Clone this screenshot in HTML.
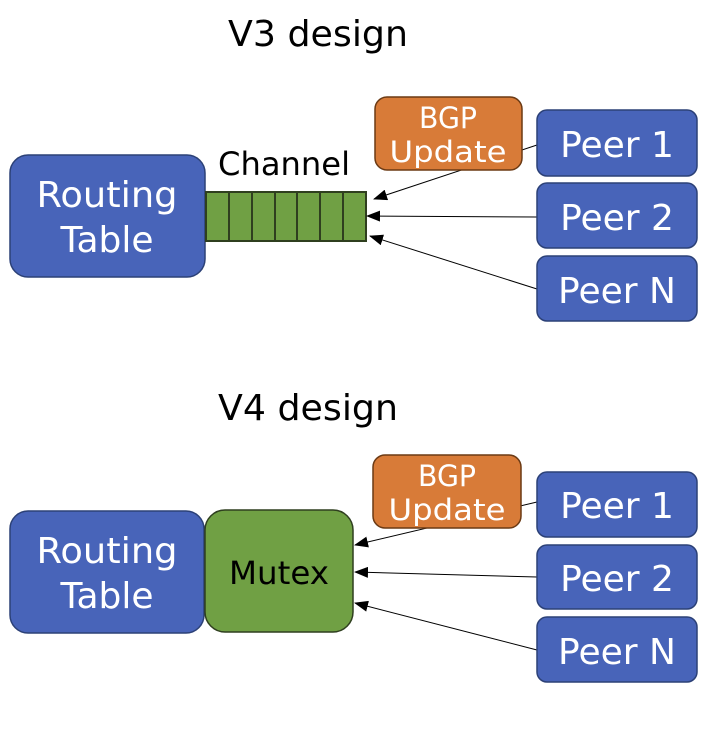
<!DOCTYPE html>
<html><head><meta charset="utf-8"><style>
html,body{margin:0;padding:0;background:#fff;}
svg{display:block;}
text{font-family:"DejaVu Sans","Liberation Sans",sans-serif;}
</style></head><body>
<svg width="710" height="729" viewBox="0 0 710 729" xmlns="http://www.w3.org/2000/svg">
<defs>
<marker id="a" markerWidth="14" markerHeight="11" refX="13" refY="5.5" orient="auto" markerUnits="userSpaceOnUse">
<path d="M0,0 L14,5.5 L0,11 z" fill="#000"/></marker>
</defs>
<!-- V3 -->
<text x="318" y="46" font-size="36" text-anchor="middle" fill="#000" textLength="180" lengthAdjust="spacingAndGlyphs">V3 design</text>
<rect x="10" y="155" width="195" height="122" rx="18" fill="#4864b9" stroke="#2c4177" stroke-width="1.5"/>
<text x="107" y="207" font-size="36" fill="#fff" text-anchor="middle" textLength="141" lengthAdjust="spacingAndGlyphs">Routing</text>
<text x="107" y="252" font-size="36" fill="#fff" text-anchor="middle">Table</text>
<text x="284" y="175" font-size="32" fill="#000" text-anchor="middle" textLength="132" lengthAdjust="spacingAndGlyphs">Channel</text>
<rect x="206" y="192" width="160" height="49" fill="#70a044" stroke="#2f3f1f" stroke-width="2"/>
<g stroke="#2f3f1f" stroke-width="2">
<line x1="229" y1="192" x2="229" y2="241"/><line x1="252" y1="192" x2="252" y2="241"/>
<line x1="275" y1="192" x2="275" y2="241"/><line x1="297" y1="192" x2="297" y2="241"/>
<line x1="320" y1="192" x2="320" y2="241"/><line x1="343" y1="192" x2="343" y2="241"/>
</g>
<g stroke="#000" stroke-width="1" marker-end="url(#a)">
<line x1="537" y1="145" x2="374" y2="199"/>
<line x1="537" y1="217" x2="367" y2="216"/>
<line x1="537" y1="289" x2="370" y2="236"/>
</g>
<rect x="375" y="97" width="147" height="73" rx="12" fill="#d87b38" stroke="#6b3a14" stroke-width="1.5"/>
<text x="448" y="128" font-size="29" fill="#fff" text-anchor="middle" textLength="58" lengthAdjust="spacingAndGlyphs">BGP</text>
<text x="448" y="162" font-size="29" fill="#fff" text-anchor="middle" textLength="117" lengthAdjust="spacingAndGlyphs">Update</text>
<g fill="#4864b9" stroke="#2c4177" stroke-width="1.5">
<rect x="537" y="110" width="160" height="66" rx="10"/>
<rect x="537" y="183" width="160" height="65" rx="10"/>
<rect x="537" y="256" width="160" height="65" rx="10"/>
</g>
<g font-size="36" fill="#fff" text-anchor="middle">
<text x="617" y="157">Peer 1</text>
<text x="617" y="230">Peer 2</text>
<text x="617" y="303">Peer N</text>
</g>
<!-- V4 -->
<text x="308" y="420" font-size="36" text-anchor="middle" fill="#000" textLength="180" lengthAdjust="spacingAndGlyphs">V4 design</text>
<rect x="10" y="511" width="194" height="122" rx="18" fill="#4864b9" stroke="#2c4177" stroke-width="1.5"/>
<text x="107" y="563" font-size="36" fill="#fff" text-anchor="middle" textLength="141" lengthAdjust="spacingAndGlyphs">Routing</text>
<text x="107" y="608" font-size="36" fill="#fff" text-anchor="middle">Table</text>
<rect x="205" y="510" width="148" height="122" rx="20" fill="#70a044" stroke="#2f3f1f" stroke-width="1.5"/>
<text x="279" y="584" font-size="32" fill="#000" text-anchor="middle" textLength="100" lengthAdjust="spacingAndGlyphs">Mutex</text>
<g stroke="#000" stroke-width="1" marker-end="url(#a)">
<line x1="537" y1="502" x2="355" y2="545"/>
<line x1="537" y1="577" x2="355" y2="572"/>
<line x1="537" y1="650" x2="355" y2="603"/>
</g>
<rect x="373" y="455" width="148" height="73" rx="12" fill="#d87b38" stroke="#6b3a14" stroke-width="1.5"/>
<text x="447" y="486" font-size="29" fill="#fff" text-anchor="middle" textLength="58" lengthAdjust="spacingAndGlyphs">BGP</text>
<text x="447" y="520" font-size="29" fill="#fff" text-anchor="middle" textLength="117" lengthAdjust="spacingAndGlyphs">Update</text>
<g fill="#4864b9" stroke="#2c4177" stroke-width="1.5">
<rect x="537" y="472" width="160" height="65" rx="10"/>
<rect x="537" y="545" width="160" height="64" rx="10"/>
<rect x="537" y="617" width="160" height="65" rx="10"/>
</g>
<g font-size="36" fill="#fff" text-anchor="middle">
<text x="617" y="518">Peer 1</text>
<text x="617" y="591">Peer 2</text>
<text x="617" y="664">Peer N</text>
</g>
</svg>
</body></html>
